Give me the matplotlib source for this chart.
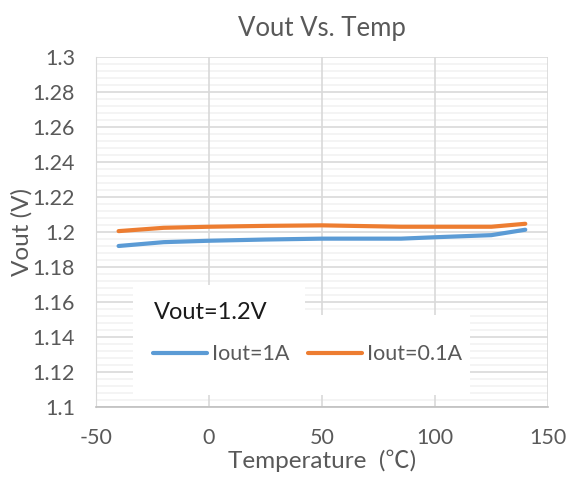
import matplotlib
matplotlib.use("Agg")
import matplotlib.pyplot as plt
from matplotlib.ticker import MultipleLocator
from matplotlib.patches import Rectangle

plt.rcParams['font.family'] = ['Lato', 'Noto Sans CJK SC', 'DejaVu Sans']
plt.rcParams['axes.unicode_minus'] = False

# data
temp = [-40, -20, 0, 25, 50, 85, 100, 125, 140]
vout_1a = [1.1920, 1.1942, 1.1950, 1.1957, 1.1962, 1.1962, 1.1970, 1.1982, 1.2013]
vout_01a = [1.2005, 1.2024, 1.2030, 1.2035, 1.2038, 1.2030, 1.2030, 1.2030, 1.2047]
ytick_labels = ['1.1', '1.12', '1.14', '1.16', '1.18', '1.2', '1.22', '1.24', '1.26', '1.28', '1.3']

grey = '#595959'

fig = plt.figure(figsize=(5.66, 4.78), dpi=100)
ax = fig.add_axes([0.1696, 0.1485, 0.7984, 0.7323])

ax.plot(temp, vout_1a, color='#5b9bd5', lw=3, label='Iout=1A', solid_capstyle='round')
ax.plot(temp, vout_01a, color='#ed7d31', lw=3, label='Iout=0.1A', solid_capstyle='round')

ax.set_xlim(-50, 150)
ax.set_ylim(1.1, 1.3)
ax.xaxis.set_major_locator(MultipleLocator(50))
ax.set_yticks([1.1 + 0.02 * i for i in range(len(ytick_labels))])
ax.set_yticklabels(ytick_labels)
ax.yaxis.set_minor_locator(MultipleLocator(0.004))

ax.grid(which='major', axis='both', color='#d9d9d9', lw=1.2)
ax.grid(which='minor', axis='y', color='#f2f2f2', lw=1.2)
ax.set_axisbelow(True)
ax.xaxis.set_zorder(0.6)
ax.yaxis.set_zorder(0.5)

for s in ['top', 'right']:
    ax.spines[s].set_visible(False)
ax.spines['left'].set_color('#d9d9d9')
ax.spines['bottom'].set_color('#bfbfbf')
ax.spines['bottom'].set_linewidth(1.2)
ax.tick_params(which='both', length=0, labelsize=15.5, colors=grey, pad=15)

ax.set_title('Vout Vs. Temp', fontsize=18.5, color=grey, pad=15)
ax.set_xlabel('Temperature  (\u2103)', fontsize=17.5, color=grey, labelpad=1)
ax.set_ylabel('Vout (V)', fontsize=17.5, color=grey, labelpad=0)

# white legend area (Excel style: title box plus entries box)
ax.add_patch(Rectangle((0.082, 0.263), 0.38, 0.086, transform=ax.transAxes,
                       facecolor='white', edgecolor='none', zorder=2))
ax.add_patch(Rectangle((0.082, 0.034), 0.745, 0.229, transform=ax.transAxes,
                       facecolor='white', edgecolor='none', zorder=2))
ax.text(0.128, 0.269, 'Vout=1.2V', transform=ax.transAxes, fontsize=17,
        color='#1a1a1a', va='center', ha='left', zorder=3)

leg = ax.legend(loc='center left', bbox_to_anchor=(0.126, 0.151), ncol=2,
                fontsize=15.5, frameon=False, borderpad=0, borderaxespad=0,
                handlelength=2.5, handletextpad=0.25, columnspacing=0.85)
leg.set_zorder(4)
for t in leg.get_texts():
    t.set_color(grey)

fig.savefig('out.png', dpi=100)
